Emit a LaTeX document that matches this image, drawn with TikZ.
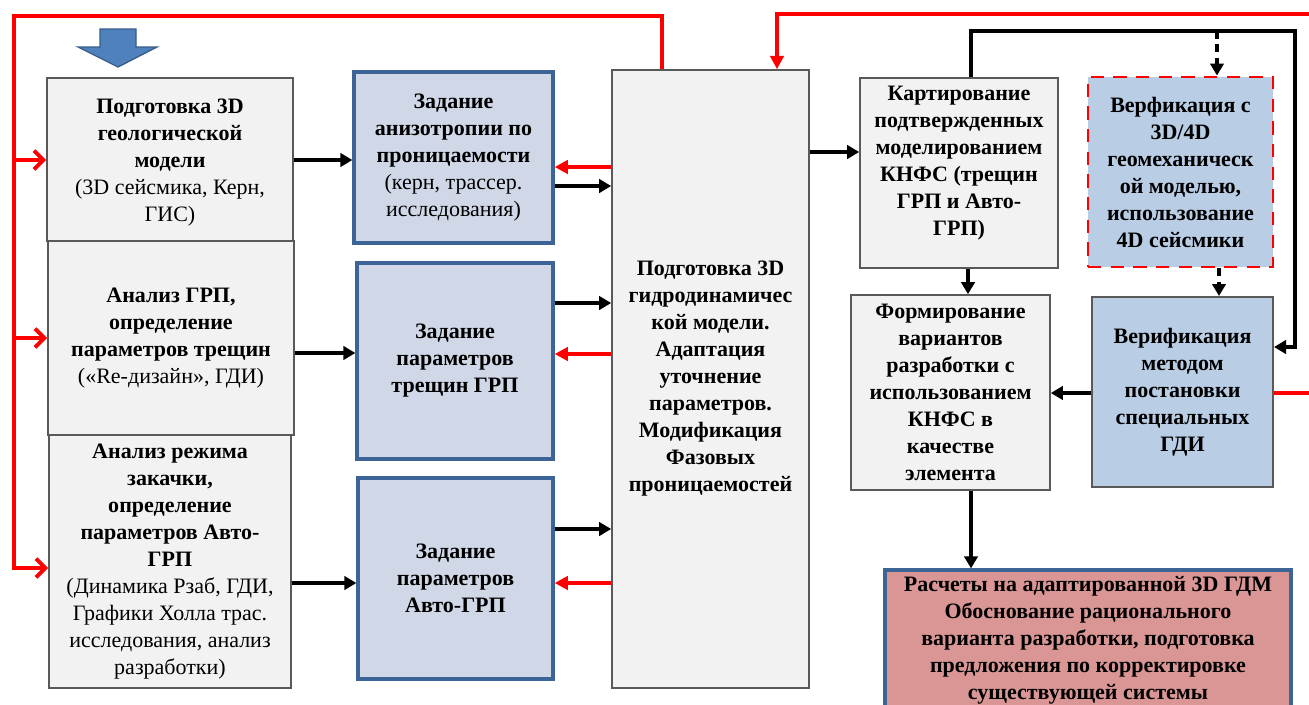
\documentclass[tikz,border=0pt]{standalone}
\usepackage{fontspec}
\setmainfont{Liberation Serif}
\usetikzlibrary{arrows.meta}
\definecolor{gfill}{HTML}{F2F2F2}
\definecolor{gdraw}{HTML}{595959}
\definecolor{bfill}{HTML}{D0D8E8}
\definecolor{bdraw}{HTML}{3C6496}
\definecolor{lbfill}{HTML}{B9CDE5}
\definecolor{pfill}{HTML}{D99694}
\definecolor{arrfill}{HTML}{4F81BD}
\definecolor{arrdraw}{HTML}{385D8A}
\tikzset{
 txt/.style={font=\fontsize{16.5pt}{20.25pt}\selectfont\bfseries, align=center, inner sep=0pt},
 boxsz/.style 2 args={minimum width=#1*0.75pt, minimum height=#2*0.75pt, inner sep=0pt},
 gbox/.style={draw=gdraw, fill=gfill, line width=1.2pt, txt},
 bbox/.style={draw=bdraw, fill=bfill, line width=2.4pt, txt},
 dbox/.style={draw=red, fill=lbfill, line width=2.2pt, dash pattern=on 10pt off 7pt, txt},
 vbox/.style={draw=gdraw, fill=lbfill, line width=1.5pt, txt},
 pbox/.style={draw=bdraw, fill=pfill, line width=2.4pt, txt},
 blk/.style={line width=3pt, -{Triangle[length=9pt,width=10pt]}},
 blkline/.style={line width=3pt},
 redl/.style={draw=red, line width=3pt},
 redarr/.style={redl, -{Triangle[length=10pt,width=10pt]}},
 redbarb/.style={redl, -{Straight Barb[length=7pt,width=14pt]}},
 dsh/.style={line width=3pt, dash pattern=on 6pt off 4pt, -{Triangle[length=9pt,width=10pt]}},
 bigarrow/.style={fill=arrfill, draw=arrdraw, line width=1pt},
}
\begin{document}
\begin{tikzpicture}[x=0.75pt,y=-0.75pt]
\useasboundingbox (0,0) rectangle (1309,704);
\clip (0,0) rectangle (1309,704);
\fill[white] (0,0) rectangle (1309,704);

% big blue arrow
\draw[bigarrow] (100,29) -- (136,29) -- (136,47) -- (157,47) -- (118,67) -- (78,47) -- (100,47) -- cycle;

% left column
\node[gbox, boxsz={246}{163}] (b1) at (170,159.5) {};
\node[txt] (b1T) at (170,163) {Подготовка 3D\\ геологической\\ модели\\ \mdseries(3D сейсмика, Керн,\\ \mdseries ГИС)};
\node[gbox, boxsz={246}{194}] (b2) at (171,338) {Анализ ГРП,\\ определение\\ параметров трещин\\ \mdseries(«Re-дизайн», ГДИ)};
\node[gbox, boxsz={242}{253}] (b3) at (170,561.5) {Анализ режима\\ закачки,\\ определение\\ параметров Авто-\\ ГРП\\ \mdseries(Динамика Рзаб, ГДИ,\\ \mdseries Графики Холла трас.\\ \mdseries исследования, анализ\\ \mdseries разработки)};

% middle column
\node[bbox, boxsz={199}{171}] (bA) at (453.5,157.5) {Задание\\ анизотропии по\\ проницаемости\\ \mdseries(керн, трассер.\\ \mdseries исследования)};
\node[bbox, boxsz={196}{196}] (bB) at (455,361) {Задание\\ параметров\\ трещин ГРП};
\node[bbox, boxsz={195}{201}] (bC) at (455.5,578.5) {Задание\\ параметров\\ Авто-ГРП};

% center
\node[gbox, boxsz={197}{618}] (cen) at (710.5,379) {Подготовка 3D\\ гидродинамичес\\ кой модели.\\ Адаптация\\ уточнение\\ параметров.\\ Модификация\\ Фазовых\\ проницаемостей};

% right part
\node[gbox, boxsz={198}{190}] (kart) at (959,173) {};
\node[txt] (kartT) at (959,163) {Картирование\\ подтвержденных\\ моделированием\\ КНФС (трещин\\ ГРП и Авто-\\ ГРП)};
\node[dbox, boxsz={185}{190}] (ver4) at (1180.5,172) {Верфикация с\\ 3D/4D\\ геомеханическ\\ ой моделью,\\ использование\\ 4D сейсмики};
\node[gbox, boxsz={199}{195}] (form) at (950.5,392.5) {Формирование\\ вариантов\\ разработки с\\ использованием\\ КНФС в\\ качестве\\ элемента};
\node[vbox, boxsz={181}{190}] (verG) at (1182.5,392) {Верификация\\ методом\\ постановки\\ специальных\\ ГДИ};
\node[pbox, boxsz={406}{160}] (pink) at (1088,650) {};
\node[txt, anchor=north] (pinkT) at (1088,576) {Расчеты на адаптированной 3D ГДМ\\ Обоснование рационального\\ варианта разработки, подготовка\\ предложения по корректировке\\ существующей системы};

% black connectors
\draw[blk] (b1.east |- 0,160) -- (bA.west |- 0,160);
\draw[blk] (bA.east |- 0,186) -- (cen.west |- 0,186);
\draw[blk] (b2.east |- 0,353) -- (bB.west |- 0,353);
\draw[blk] (bB.east |- 0,303) -- (cen.west |- 0,303);
\draw[blk] (b3.east |- 0,583) -- (bC.west |- 0,583);
\draw[blk] (bC.east |- 0,529) -- (cen.west |- 0,529);
\draw[blk] (cen.east |- 0,152) -- (kart.west |- 0,152);
\draw[blk] (kart.south -| 968,0) -- (form.north -| 968,0);
\draw[blk] (verG.west |- 0,393) -- (form.east |- 0,393);
\draw[blk] (form.south -| 971,0) -- (pink.north -| 971,0);

\coordinate (jA) at (971,31);
\coordinate (jB) at (1217,31);
\coordinate (jC) at (1295,31);
\draw[blkline, -{Triangle[length=9pt,width=10pt]}, line join=miter] (kart.north -| jA) -- (jA) -- (jC) |- (verG.east |- 0,347);
\draw[dsh] (jB) -- (ver4.north -| jB);
\draw[dsh] (ver4.south -| 1219,0) -- (verG.north -| 1219,0);

% red connectors
\draw[redarr] (cen.west |- 0,167) -- (bA.east |- 0,167);
\draw[redarr] (cen.west |- 0,354) -- (bB.east |- 0,354);
\draw[redarr] (cen.west |- 0,583) -- (bC.east |- 0,583);

\coordinate (rL) at (14,16);
\draw[redbarb, line join=miter] (cen.north -| 662,0) |- (rL) |- (b3.west |- 0,568);
\draw[redbarb] (14,160) -- (b1.west |- 0,160);
\draw[redbarb] (14,338) -- (b2.west |- 0,338);

\coordinate (rR) at (1309,14);
\draw[redarr, line join=miter] (rR) -| (cen.north -| 777,0);
\coordinate (rE) at (1309,393);
\draw[redl] (verG.east |- rE) -- (rE);
\end{tikzpicture}
\end{document}
